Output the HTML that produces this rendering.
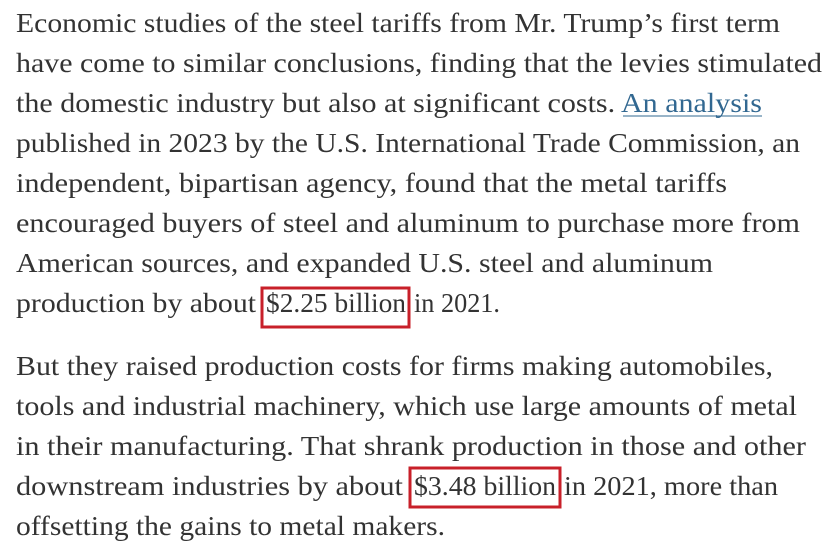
<!DOCTYPE html>
<html><head><meta charset="utf-8"><style>
html,body{margin:0;padding:0;background:#fff;width:840px;height:553px;overflow:hidden}
svg text{font-family:"Liberation Serif",serif;font-size:27px;fill:#333}
</style></head><body>
<svg width="840" height="553" xmlns="http://www.w3.org/2000/svg">
<text x="16" y="32" textLength="764" lengthAdjust="spacingAndGlyphs">Economic studies of the steel tariffs from Mr. Trump’s first term</text>
<text x="16" y="72" textLength="806" lengthAdjust="spacingAndGlyphs">have come to similar conclusions, finding that the levies stimulated</text>
<text x="16" y="112" textLength="746" lengthAdjust="spacingAndGlyphs">the domestic industry but also at significant costs. <tspan fill="#326891">An analysis</tspan></text>
<line x1="623" y1="116" x2="762" y2="116" stroke="#326891" stroke-width="1"/>
<text x="16" y="152" textLength="784" lengthAdjust="spacingAndGlyphs">published in 2023 by the U.S. International Trade Commission, an</text>
<text x="16" y="192" textLength="711" lengthAdjust="spacingAndGlyphs">independent, bipartisan agency, found that the metal tariffs</text>
<text x="16" y="232" textLength="784" lengthAdjust="spacingAndGlyphs">encouraged buyers of steel and aluminum to purchase more from</text>
<text x="16" y="272" textLength="697" lengthAdjust="spacingAndGlyphs">American sources, and expanded U.S. steel and aluminum</text>
<text x="16" y="312" textLength="240" lengthAdjust="spacingAndGlyphs">production by about</text>
<text x="266" y="312" textLength="140" lengthAdjust="spacingAndGlyphs">$2.25 billion</text>
<text x="414" y="312" textLength="86" lengthAdjust="spacingAndGlyphs">in 2021.</text>
<rect x="262" y="288" width="147" height="39" fill="none" stroke="#c8202a" stroke-width="3"/>
<text x="16" y="375" textLength="757" lengthAdjust="spacingAndGlyphs">But they raised production costs for firms making automobiles,</text>
<text x="16" y="415" textLength="781" lengthAdjust="spacingAndGlyphs">tools and industrial machinery, which use large amounts of metal</text>
<text x="16" y="455" textLength="790" lengthAdjust="spacingAndGlyphs">in their manufacturing. That shrank production in those and other</text>
<text x="16" y="495" textLength="387" lengthAdjust="spacingAndGlyphs">downstream industries by about</text>
<text x="414" y="495" textLength="142" lengthAdjust="spacingAndGlyphs">$3.48 billion</text>
<text x="564" y="495" textLength="214" lengthAdjust="spacingAndGlyphs">in 2021, more than</text>
<rect x="410" y="468" width="150" height="39" fill="none" stroke="#c8202a" stroke-width="3"/>
<text x="16" y="535" textLength="429" lengthAdjust="spacingAndGlyphs">offsetting the gains to metal makers.</text>
</svg>
</body></html>
